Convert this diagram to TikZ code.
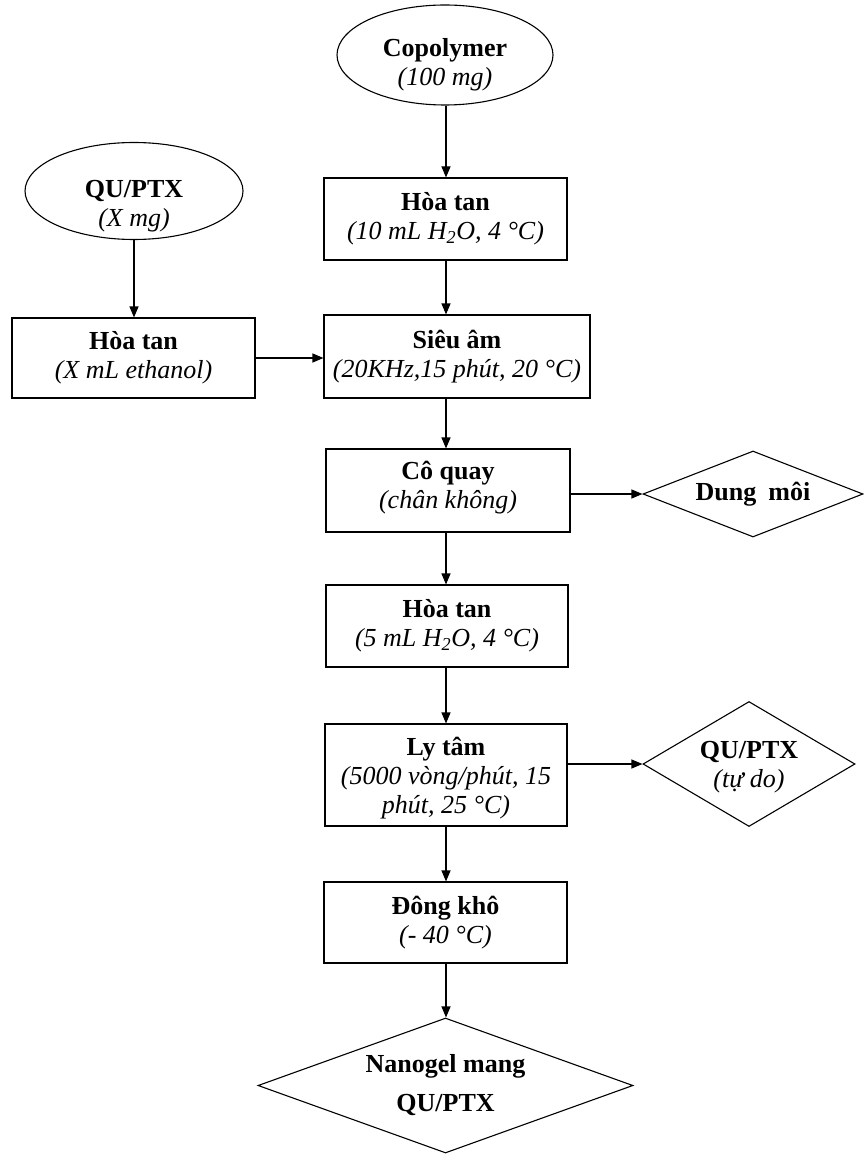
\documentclass[tikz,border=0pt]{standalone}
\usepackage{fontspec}
\setmainfont{Liberation Serif}
\usetikzlibrary{shapes.geometric,arrows.meta}
\begin{document}
\begin{tikzpicture}[x=1pt,y=-1pt,
  every node/.style={font=\fontsize{26}{29}\selectfont, align=center, inner sep=0pt},
  box/.style={draw, rectangle, line width=1.1pt},
  oval/.style={draw, ellipse, line width=1.1pt},
  dia/.style={draw, diamond, line width=1.1pt},
  arr/.style={-{Triangle[length=11pt,width=9pt]}, line width=1.1pt}]
\useasboundingbox (0,0) rectangle (863,1155);
\coordinate (col) at (446,0);
% nodes
\node[oval, minimum width=216pt, minimum height=100pt] (cop) at (445,55) {};
\node (coptext) at (445,65) {\textbf{Copolymer}\\\textit{(100 mg)}};
\node[oval, minimum width=218pt, minimum height=97pt] (qu) at (134,191) {};
\node (qutext) at (134,206) {\textbf{QU/PTX}\\\textit{(X mg)}};
\node[box, minimum width=243pt, minimum height=82pt] (ht1) at (445.5,219)
  {\textbf{Hòa tan}\\\textit{(10 mL H\textsubscript{2}O, 4 °C)}};
\node[box, minimum width=243pt, minimum height=80pt] (htl) at (133.5,358)
  {\textbf{Hòa tan}\\\textit{(X mL ethanol)}};
\node[box, minimum width=266pt, minimum height=83pt] (sa) at (457,356.5)
  {\textbf{Siêu âm}\\\textit{(20KHz,15 phút, 20 °C)}};
\node[box, minimum width=244pt, minimum height=83pt] (cq) at (448,490.5) {};
\node (cqtext) at (448,487.5) {\textbf{Cô quay}\\\textit{(chân không)}};
\node[dia, minimum width=220pt, minimum height=86pt, aspect=2.56] (dm) at (753,494)
  {\textbf{Dung\hspace{12pt}môi}};
\node[box, minimum width=242pt, minimum height=82pt] (ht2) at (447,626)
  {\textbf{Hòa tan}\\\textit{(5 mL H\textsubscript{2}O, 4 °C)}};
\node[box, minimum width=242pt, minimum height=102pt] (lt) at (446,775) {};
\node (lttext) at (446,778) {\textbf{Ly tâm}\\\textit{(5000 vòng/phút, 15}\\\textit{phút, 25 °C)}};
\node[dia, minimum width=212pt, minimum height=125pt, aspect=1.7] (qd) at (749,764) {};
\node (qdtext) at (749,767) {\textbf{QU/PTX}\\\textit{(tự do)}};
\node[box, minimum width=243pt, minimum height=81pt] (dk) at (445.5,922.5)
  {\textbf{Đông khô}\\\textit{(- 40 °C)}};
\node[dia, minimum width=375pt, minimum height=135pt, aspect=2.78] (ng) at (445.5,1085.5)
  {\textbf{Nanogel mang}\\[10pt]\textbf{QU/PTX}};
% connectors
\draw[arr] (col |- cop.south) -- (col |- ht1.north);
\draw[arr] (col |- ht1.south) -- (col |- sa.north);
\draw[arr] (col |- sa.south) -- (col |- cq.north);
\draw[arr] (col |- cq.south) -- (col |- ht2.north);
\draw[arr] (col |- ht2.south) -- (col |- lt.north);
\draw[arr] (col |- lt.south) -- (col |- dk.north);
\draw[arr] (col |- dk.south) -- (col |- ng.north);
\draw[arr] (qu.south) -- (qu.south |- htl.north);
\draw[arr] (htl.east) -- (htl.east -| sa.west);
\draw[arr] (cq.east |- dm.west) -- (dm.west);
\draw[arr] (lt.east |- qd.west) -- (qd.west);
\end{tikzpicture}
\end{document}
